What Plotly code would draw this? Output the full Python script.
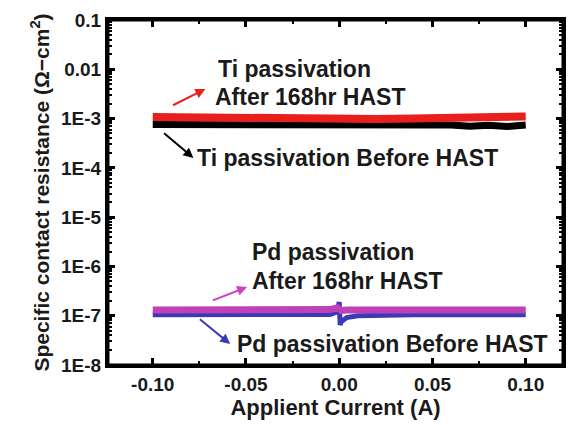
import plotly.graph_objects as go

# ---- data ----
x_ti = [-0.10, -0.08, -0.06, -0.04, -0.02, 0.00, 0.02, 0.04, 0.06, 0.07, 0.08, 0.09, 0.10]
ti_after = [1.08e-3, 1.05e-3, 1.02e-3, 1.00e-3, 0.98e-3, 0.97e-3, 0.98e-3, 1.00e-3, 1.03e-3, 1.04e-3, 1.06e-3, 1.08e-3, 1.10e-3]
ti_before = [7.6e-4, 7.6e-4, 7.5e-4, 7.5e-4, 7.5e-4, 7.4e-4, 7.5e-4, 7.5e-4, 7.4e-4, 7.0e-4, 7.3e-4, 6.9e-4, 7.4e-4]

x_pd = [-0.10, -0.06, -0.02, -0.005, -0.001, 0.0, 0.0005, 0.001, 0.004, 0.01, 0.04, 0.07, 0.10]
pd_after = [1.31e-7, 1.31e-7, 1.31e-7, 1.33e-7, 1.45e-7, 1.38e-7, 1.30e-7, 1.28e-7, 1.30e-7, 1.31e-7, 1.31e-7, 1.31e-7, 1.31e-7]
pd_before = [1.05e-7, 1.05e-7, 1.05e-7, 1.06e-7, 1.2e-7, 1.9e-7, 6.5e-8, 7.5e-8, 9.2e-8, 1.0e-7, 1.04e-7, 1.04e-7, 1.04e-7]

x_ticks = [-0.10, -0.05, 0.00, 0.05, 0.10]
x_labels = ["-0.10", "-0.05", "0.00", "0.05", "0.10"]
y_ticks = [1e-8, 1e-7, 1e-6, 1e-5, 1e-4, 1e-3, 1e-2, 1e-1]
y_labels = ["1E-8", "1E-7", "1E-6", "1E-5", "1E-4", "1E-3", "0.01", "0.1"]

FONT = "Liberation Sans, Arial, sans-serif"
TXT = "#1a1a1a"

# layout geometry
W, H = 575, 425
L, R, T, B = 108, 9, 20, 60
XR = [-0.124, 0.12]
YR = [-8, -1]

def dx(px):
    return XR[0] + (px - L) / (W - L - R) * (XR[1] - XR[0])

def dy(py):
    return YR[1] - (py - T) / (H - T - B) * (YR[1] - YR[0])

fig = go.Figure()
fig.add_trace(go.Scatter(x=x_ti, y=ti_before, mode="lines", line=dict(color="black", width=7), showlegend=False))
fig.add_trace(go.Scatter(x=x_ti, y=ti_after, mode="lines", line=dict(color="#e8201c", width=8), showlegend=False))
fig.add_trace(go.Scatter(x=x_pd, y=pd_before, mode="lines", line=dict(color="#3a3ab8", width=5), showlegend=False))
fig.add_trace(go.Scatter(x=x_pd, y=pd_after, mode="lines", line=dict(color="#c040b8", width=7), showlegend=False))

minor_y = [m * 10 ** e for e in range(-8, -1) for m in range(2, 10)]

fig.update_xaxes(
    range=XR, tickmode="array", tickvals=x_ticks, ticktext=x_labels,
    ticks="inside", ticklen=7, tickwidth=2.5, tickcolor="black",
    showline=True, linewidth=3, linecolor="black", mirror="allticks",
    showgrid=False, zeroline=False,
    tickfont=dict(family=FONT, size=19, color=TXT, weight="bold"),
    minor=dict(tickmode="array", tickvals=[-0.075, -0.025, 0.025, 0.075], ticks="inside", ticklen=4, tickwidth=2, tickcolor="black", showgrid=False),
    title=dict(text="Applient Current (A)", font=dict(family=FONT, size=22, color=TXT, weight="bold"), standoff=4),
)
fig.update_yaxes(
    type="log", range=YR, tickmode="array", tickvals=y_ticks, ticktext=y_labels,
    ticks="inside", ticklen=7, tickwidth=2.5, tickcolor="black",
    showline=True, linewidth=3, linecolor="black", mirror="allticks",
    showgrid=False, zeroline=False,
    tickfont=dict(family=FONT, size=19, color=TXT, weight="bold"),
    minor=dict(tickmode="array", tickvals=minor_y, ticks="inside", ticklen=4, tickwidth=1.5, tickcolor="black", showgrid=False),
    title=dict(text="Specific contact resistance (Ω\u2212cm<sup>2</sup>)", font=dict(family=FONT, size=21, color=TXT, weight="bold"), standoff=6),
)

# frame
fig.add_shape(type="rect", xref="paper", yref="paper", x0=0, y0=0, x1=1, y1=1,
              line=dict(color="black", width=3), fillcolor="rgba(0,0,0,0)", layer="above")

tf = dict(family=FONT, size=23, color=TXT, weight="bold")
labels = [
    ("Ti passivation", 217, 69),
    ("After 168hr HAST", 214, 97),
    ("Ti passivation Before HAST", 196, 158),
    ("Pd passivation", 251, 252),
    ("After 168hr HAST", 251, 281),
    ("Pd passivation Before HAST", 236, 344),
]
for txt, px, py in labels:
    fig.add_annotation(x=dx(px), y=dy(py), xref="x", yref="y", text=txt, showarrow=False,
                       xanchor="left", yanchor="middle", font=tf)

arrows = [
    ((172, 106), (206, 89), "#e8201c"),
    ((163, 132), (194, 158), "black"),
    ((212, 301), (248, 287), "#d040c0"),
    ((199, 318), (231, 344), "#3a3ab8"),
]
for (x0, y0), (x1, y1), c in arrows:
    fig.add_annotation(x=dx(x1), y=dy(y1), ax=dx(x0), ay=dy(y0), xref="x", yref="y", axref="x", ayref="y",
                       text="", showarrow=True, arrowhead=2, arrowsize=1, arrowwidth=2, arrowcolor=c)

fig.update_layout(
    width=W, height=H, margin=dict(l=L, r=R, t=T, b=B),
    paper_bgcolor="white", plot_bgcolor="white",
    font=dict(family=FONT),
)
fig.write_html("out.html")
